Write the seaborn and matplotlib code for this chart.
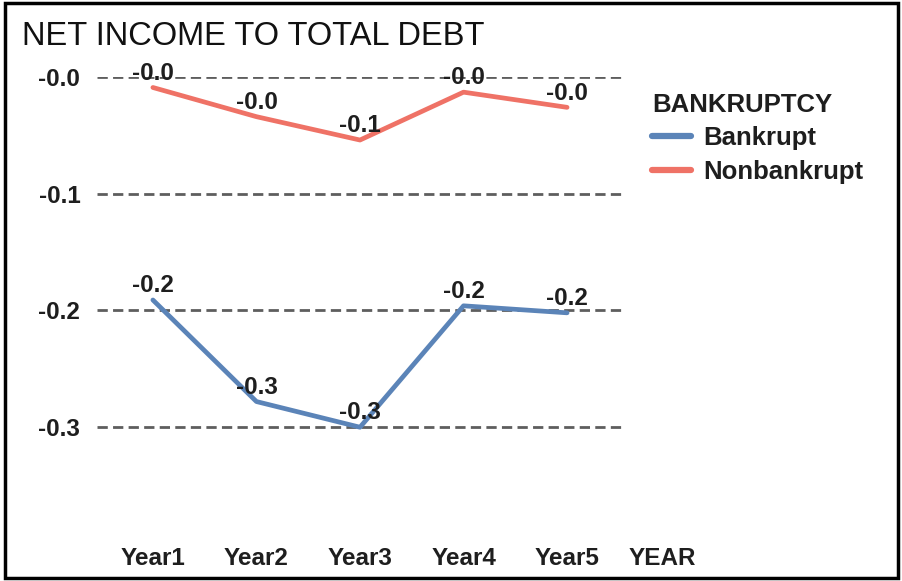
import matplotlib
matplotlib.use("Agg")
import matplotlib.pyplot as plt
import seaborn as sns
import pandas as pd
from matplotlib.patches import Rectangle

years = ["Year1", "Year2", "Year3", "Year4", "Year5"]
bankrupt = [-0.191, -0.278, -0.300, -0.196, -0.202]
nonbankrupt = [-0.009, -0.034, -0.054, -0.013, -0.026]
groups = ["Bankrupt", "Nonbankrupt"]
ytick_values = [0.0, -0.1, -0.2, -0.3]
ytick_labels = ["-0.0", "-0.1", "-0.2", "-0.3"]

colors = {"Bankrupt": "#5b84b8", "Nonbankrupt": "#ef7266"}
ink = "#1e1e1e"
fs = 17.5

df = pd.DataFrame({
    "YEAR": years * 2,
    "value": bankrupt + nonbankrupt,
    "BANKRUPTCY": [groups[0]] * len(years) + [groups[1]] * len(years),
})
df["pos"] = list(range(len(years))) * 2

sns.set_style("white")
plt.rcParams["font.family"] = ["Liberation Sans", "DejaVu Sans"]

fig = plt.figure(figsize=(9.03, 5.81), dpi=100)
ax = fig.add_axes([0.1074, 0.0637, 0.5825, 0.8038])

sns.lineplot(data=df, x="pos", y="value", hue="BANKRUPTCY", palette=colors,
             linewidth=3.4, ax=ax, legend=False, sort=False)

ax.set_xlim(-0.54, 4.54)
ax.set_ylim(-0.4, 0.0)
ax.set_yticks(ytick_values)
ax.set_yticklabels(ytick_labels)
ax.set_xticks(range(len(years)))
ax.set_xticklabels(years)
for lab in ax.get_xticklabels() + ax.get_yticklabels():
    lab.set_fontweight("bold")
    lab.set_fontsize(fs)
    lab.set_color(ink)
ax.tick_params(axis="y", length=0, pad=12)
ax.tick_params(axis="x", length=0, pad=2)

for yv in ytick_values:
    ax.axhline(yv, color="#5e5e5e", linewidth=2.0, linestyle=(0, (3.7, 1.9)), zorder=0)

for s in ax.spines.values():
    s.set_visible(False)

ax.set_ylabel("")
ax.set_xlabel("YEAR", fontsize=fs, fontweight="bold", color=ink)
ax.xaxis.set_label_coords(1.074, -0.031)
ax.xaxis.label.set_va("center")

# value labels above each point
for series in (bankrupt, nonbankrupt):
    for i, v in enumerate(series):
        ax.annotate(f"{v:.1f}", (i, v), xytext=(0, 2), textcoords="offset points",
                    ha="center", va="bottom", fontsize=fs, fontweight="bold",
                    color=ink, annotation_clip=False)

fig.text(0.024, 0.937, "NET INCOME TO TOTAL DEBT", fontsize=23.5,
         color="#111111", va="center")

handles = [plt.Line2D([], [], color=colors[g], linewidth=4.5) for g in groups]
leg = fig.legend(handles, groups, title="BANKRUPTCY", loc="upper left",
                 bbox_to_anchor=(0.708, 0.862), frameon=False, handlelength=1.5,
                 handletextpad=0.5, labelspacing=0.36, borderpad=0.0,
                 prop={"weight": "bold", "size": 18.5},
                 title_fontproperties={"weight": "bold", "size": 18.5})
leg._legend_box.align = "left"
for t in leg.get_texts():
    t.set_color(ink)
leg.get_title().set_color(ink)

fig.patches.append(Rectangle((0.006, 0.006), 0.988, 0.988, transform=fig.transFigure,
                             fill=False, edgecolor="black", linewidth=2.5))

fig.savefig("out.png", dpi=100)
